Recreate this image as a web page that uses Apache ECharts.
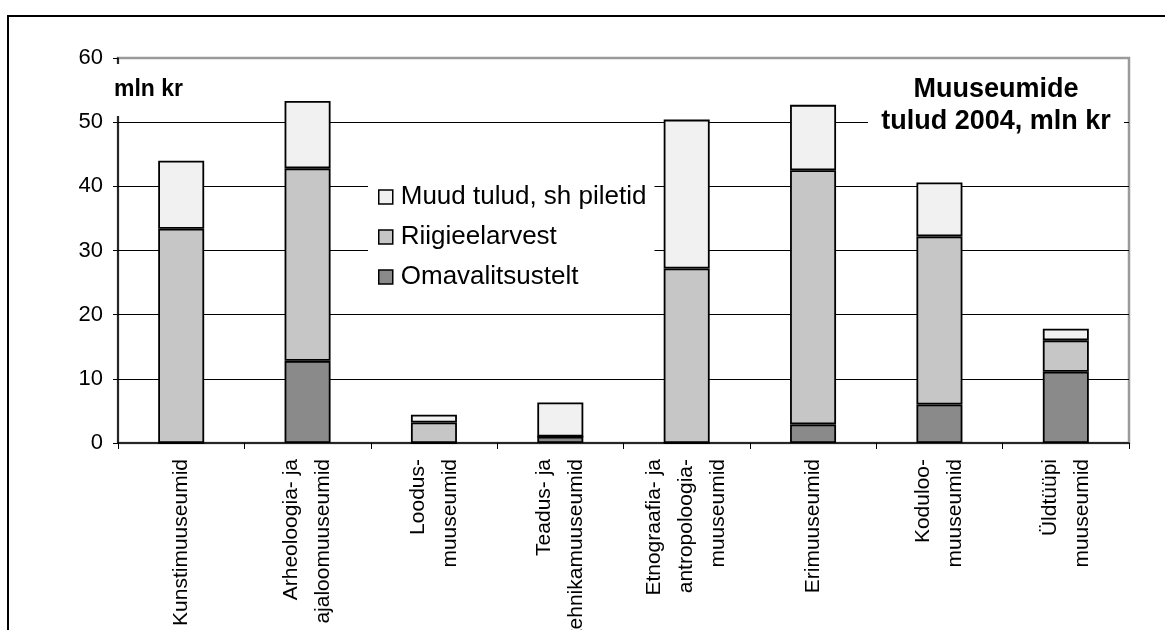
<!DOCTYPE html>
<html>
<head>
<meta charset="utf-8">
<script src="https://cdn.jsdelivr.net/npm/echarts@6/dist/echarts.min.js"></script>
<style>
  html, body { margin: 0; padding: 0; background: #fff; }
  #main { width: 1165px; height: 630px; }
</style>
</head>
<body>
<div id="main"></div>
<script>
// muuseumide tulud 2004, mln kr
var categories = [
  'Kunstimuuseumid',
  'Arheoloogia- ja\najaloomuuseumid',
  'Loodus-\nmuuseumid',
  'Teadus- ja\ntehnikamuuseumid',
  'Etnograafia- ja\nantropoloogia-\nmuuseumid',
  'Erimuuseumid',
  'Koduloo-\nmuuseumid',
  'Üldtüüpi\nmuuseumid'
];
var omavalitsustelt = [0, 12.8, 0, 1.0, 0, 2.9, 6.0, 11.1];
var riigieelarvest = [33.4, 30.0, 3.2, 0, 27.2, 39.6, 26.2, 4.9];
var muudTulud = [10.6, 10.5, 1.2, 5.3, 23.2, 10.2, 8.4, 1.8];
var yTicks = [0, 10, 20, 30, 40, 50, 60];

var FONT = '"Liberation Sans", Arial, sans-serif';

var myChart = echarts.init(document.getElementById('main'));

function barSeries(name, data, color){
  return {
    name: name,
    type: 'bar',
    stack: 'tulud',
    barWidth: 46,
    data: data,
    itemStyle: {
      color: color,
      borderColor: '#000',
      borderWidth: 1.8
    },
    emphasis: { disabled: true }
  };
}

myChart.setOption({
  animation: false,
  backgroundColor: '#fff',
  textStyle: { fontFamily: FONT },
  grid: {
    left: 118,
    right: 36,
    top: 58,
    bottom: 187,
    outerBoundsMode: 'none',
    containLabel: false,
    show: true,
    borderColor: '#9a9a9a',
    borderWidth: 2.5,
    backgroundColor: 'transparent'
  },
  legend: {
    orient: 'vertical',
    left: 368,
    top: 178,
    data: ['Muud tulud, sh piletid', 'Riigieelarvest', 'Omavalitsustelt'],
    icon: 'rect',
    itemWidth: 14,
    itemHeight: 14,
    itemGap: 14,
    backgroundColor: '#fff',
    padding: [6, 8, 6, 10],
    itemStyle: { borderColor: '#000', borderWidth: 1.5 },
    textStyle: { fontFamily: FONT, fontSize: 26, color: '#000', padding: [0, 0, 0, 3] },
    selectedMode: false
  },
  xAxis: {
    type: 'category',
    data: categories,
    axisLine: { lineStyle: { color: '#000', width: 1.5 } },
    axisTick: { show: true, length: 6, lineStyle: { color: '#000', width: 1 } },
    axisLabel: {
      rotate: 90,
      interval: 0,
      margin: 16,
      fontFamily: FONT,
      fontSize: 21,
      lineHeight: 32,
      color: '#000'
    }
  },
  yAxis: {
    type: 'value',
    min: yTicks[0],
    max: yTicks[yTicks.length - 1],
    interval: 10,
    axisLine: { show: true, lineStyle: { color: '#000', width: 1.5 } },
    axisTick: { show: true, length: 5, lineStyle: { color: '#000', width: 1 } },
    axisLabel: { margin: 15, fontFamily: FONT, fontSize: 22, color: '#000' },
    splitLine: {
      show: true,
      showMinLine: false,
      showMaxLine: false,
      lineStyle: { color: '#000', width: 1.2 }
    }
  },
  graphic: [
    // kogu joonise raam
    { type: 'rect', shape: { x: 8, y: 16, width: 1200, height: 700 },
      style: { fill: 'none', stroke: '#000', lineWidth: 2 }, z: 100 },
    // mln kr
    { type: 'rect', shape: { x: 110, y: 64, width: 80, height: 52 },
      style: { fill: '#fff' }, z: 100 },
    { type: 'text', x: 114, y: 90, z: 101,
      style: { text: 'mln kr', font: 'bold 23px ' + FONT, fill: '#000',
        textAlign: 'left', textVerticalAlign: 'middle' } },
    // pealkiri
    { type: 'rect', shape: { x: 868, y: 68, width: 256, height: 72 },
      style: { fill: '#fff' }, z: 100 },
    { type: 'text', x: 996, y: 90, z: 101,
      style: { text: 'Muuseumide', font: 'bold 27px ' + FONT, fill: '#000',
        textAlign: 'center', textVerticalAlign: 'middle' } },
    { type: 'text', x: 996, y: 122, z: 101,
      style: { text: 'tulud 2004, mln kr', font: 'bold 27px ' + FONT, fill: '#000',
        textAlign: 'center', textVerticalAlign: 'middle' } }
  ],
  series: [
    barSeries('Omavalitsustelt', omavalitsustelt, '#8a8a8a'),
    barSeries('Riigieelarvest', riigieelarvest, '#c6c6c6'),
    barSeries('Muud tulud, sh piletid', muudTulud, '#f1f1f1')
  ]
});
</script>
</body>
</html>
